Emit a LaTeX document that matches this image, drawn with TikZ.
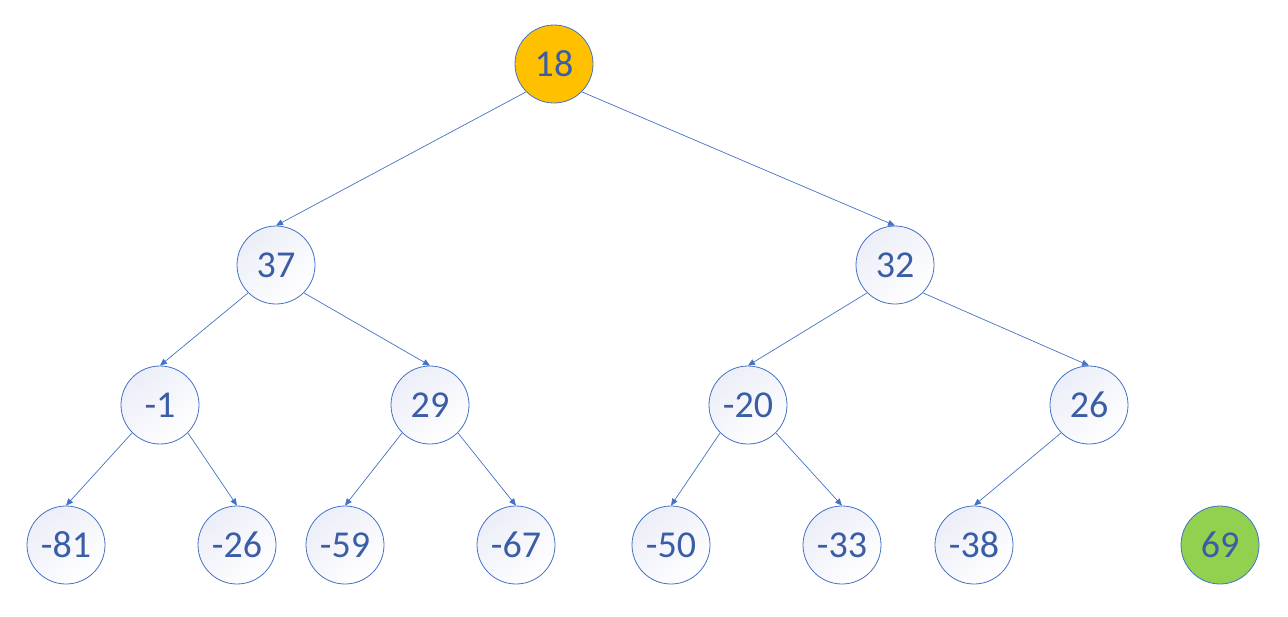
\documentclass[tikz,border=0pt]{standalone}
\usepackage{fontspec}
\setmainfont{Carlito}
\usetikzlibrary{arrows.meta}
\definecolor{edgeblue}{HTML}{4472C4}
\definecolor{numblue}{HTML}{3A5DA6}
\definecolor{paleblue}{HTML}{ECEEF8}
\definecolor{gold}{HTML}{FFC000}
\definecolor{leafgreen}{HTML}{92D050}
\begin{document}
\begin{tikzpicture}[x=1pt,y=1pt,
  basenode/.style={circle, draw=edgeblue, line width=0.8pt, minimum size=78pt,
    inner sep=0pt, text=numblue, font=\fontsize{38}{44}\selectfont},
  heapnode/.style={basenode, top color=paleblue, bottom color=white, shading angle=40},
  rootnode/.style={basenode, fill=gold},
  extranode/.style={basenode, fill=leafgreen},
  link/.style={draw=edgeblue, line width=0.7pt, -{Triangle[length=7pt,width=6pt]}}]
\useasboundingbox (0,0) rectangle (1288,-616);
% root
\node[rootnode] (n18) at (554,-64) {18};
% second level
\node[heapnode] (n37) at (276,-265) {37};
\node[heapnode] (n32) at (895,-265) {32};
% third level
\node[heapnode] (nm1) at (160,-405) {-1};
\node[heapnode] (n29) at (430,-405) {29};
\node[heapnode] (nm20) at (748,-405) {-20};
\node[heapnode] (n26) at (1089,-405) {26};
% leaves
\node[heapnode] (nm81) at (66,-545) {-81};
\node[heapnode] (nm26) at (237,-545) {-26};
\node[heapnode] (nm59) at (345,-545) {-59};
\node[heapnode] (nm67) at (516,-545) {-67};
\node[heapnode] (nm50) at (671,-545) {-50};
\node[heapnode] (nm33) at (842,-545) {-33};
\node[heapnode] (nm38) at (974,-545) {-38};
\node[extranode] (n69) at (1220,-545) {69};
% parent-to-child links: from the parent's lower side to the child's top
\draw[link] (n18.south west) -- (n37.north);
\draw[link] (n18.south east) -- (n32.north);
\draw[link] (n37.south west) -- (nm1.north);
\draw[link] (n37.south east) -- (n29.north);
\draw[link] (n32.south west) -- (nm20.north);
\draw[link] (n32.south east) -- (n26.north);
\draw[link] (nm1.south west) -- (nm81.north);
\draw[link] (nm1.south east) -- (nm26.north);
\draw[link] (n29.south west) -- (nm59.north);
\draw[link] (n29.south east) -- (nm67.north);
\draw[link] (nm20.south west) -- (nm50.north);
\draw[link] (nm20.south east) -- (nm33.north);
\draw[link] (n26.south west) -- (nm38.north);
\end{tikzpicture}
\end{document}
